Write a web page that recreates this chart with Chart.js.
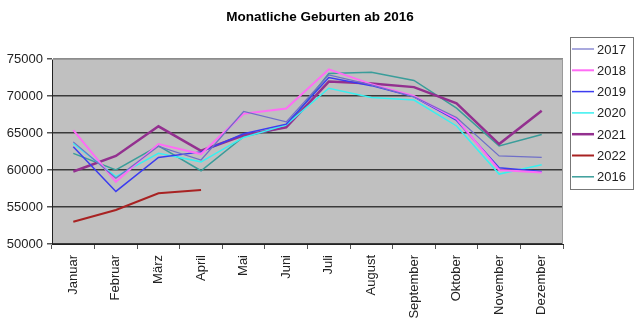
<!DOCTYPE html>
<html lang="de">
<head>
    <meta charset="UTF-8">
    <title>Monatliche Geburten ab 2016</title>
    <style>
        body { margin: 0; background: #ffffff; }
        #wrap { width: 640px; height: 326px; }
    </style>
    <script src="https://cdn.jsdelivr.net/npm/chart.js"></script>
</head>
<body>
    <div id="wrap"><canvas id="chart" width="640" height="326"></canvas></div>

    <script>
        // Monate und Geburten je Jahr
        const months = ['Januar', 'Februar', 'März', 'April', 'Mai', 'Juni', 'Juli',
                        'August', 'September', 'Oktober', 'November', 'Dezember'];
        const y2017 = [63800, 58900, 63200, 61350, 67900, 66500, 72850, 71500, 69900, 67100, 61900, 61700];
        const y2018 = [65400, 58400, 63500, 62150, 67600, 68300, 73600, 71600, 70000, 66900, 60000, 59650];
        const y2019 = [63150, 57100, 61700, 62450, 64900, 66200, 72500, 71400, 69900, 66700, 60300, 59800];
        const y2020 = [63600, 59100, 62250, 61100, 64400, 66100, 71050, 69800, 69450, 65950, 59450, 60700];
        const y2021 = [59800, 61900, 65900, 62600, 64700, 65750, 71950, 71700, 71200, 69000, 63500, 68000];
        const y2022 = [53000, 54600, 56850, 57300];
        const y2016 = [62250, 60000, 63250, 59900, 64500, 65800, 73050, 73200, 72100, 68350, 63250, 64800];
        const yTicks = [50000, 55000, 60000, 65000, 70000, 75000];

        const FONT = 'Liberation Sans, Arial, sans-serif';

        function series(label, data, color, width) {
            return { label, data, borderColor: color, backgroundColor: color,
                     borderWidth: width, pointRadius: 0, tension: 0, fill: false };
        }

        // grauer Plotbereich, Titel und Legende im Kasten
        const decor = {
            id: 'decor',
            beforeDraw(chart) {
                const { ctx, chartArea: a } = chart;
                ctx.save();
                ctx.fillStyle = '#c0c0c0';
                ctx.fillRect(a.left, a.top, a.right - a.left, a.bottom - a.top);
                ctx.restore();
            },
            afterDraw(chart) {
                const { ctx, chartArea: a } = chart;
                ctx.save();
                ctx.strokeStyle = '#9a9a9a';
                ctx.lineWidth = 1;
                ctx.beginPath();
                ctx.moveTo(a.left, a.top + 0.5);
                ctx.lineTo(a.right - 0.5, a.top + 0.5);
                ctx.lineTo(a.right - 0.5, a.bottom);
                ctx.stroke();

                ctx.fillStyle = '#000';
                ctx.font = 'bold 13.5px ' + FONT;
                ctx.textAlign = 'center';
                ctx.textBaseline = 'middle';
                ctx.fillText('Monatliche Geburten ab 2016', 320, 17);

                // Legende
                const bx = 570, by = 37, bw = 63, bh = 152;
                ctx.fillStyle = '#fff';
                ctx.fillRect(bx, by, bw, bh);
                ctx.strokeStyle = '#777';
                ctx.strokeRect(bx + 0.5, by + 0.5, bw, bh);
                ctx.font = '13px ' + FONT;
                ctx.textAlign = 'left';
                chart.data.datasets.forEach((ds, i) => {
                    const y = 49 + i * 21.3;
                    ctx.strokeStyle = ds.borderColor;
                    ctx.lineWidth = ds.borderWidth;
                    ctx.beginPath();
                    ctx.moveTo(572, y);
                    ctx.lineTo(594, y);
                    ctx.stroke();
                    ctx.fillStyle = '#222';
                    ctx.fillText(ds.label, 597, y + 1);
                });
                ctx.restore();
            }
        };

        new Chart(document.getElementById('chart'), {
            type: 'line',
            data: {
                labels: months,
                datasets: [
                    series('2017', y2017, '#6f6fc8', 1.2),
                    series('2018', y2018, '#ff6cf5', 2),
                    series('2019', y2019, '#3c3cf0', 1.5),
                    series('2020', y2020, '#38f0f0', 1.5),
                    series('2021', y2021, '#93308f', 2.5),
                    series('2022', y2022, '#a82222', 2),
                    series('2016', y2016, '#3a9d9a', 1.5)
                ]
            },
            options: {
                responsive: false,
                animation: false,
                layout: { padding: { top: 59, right: 77, left: 0, bottom: 0 } },
                plugins: { legend: { display: false }, title: { display: false }, tooltip: { enabled: false } },
                scales: {
                    x: {
                        offset: true,
                        afterFit(scale) { scale.height = 82; },
                        grid: { offset: true, drawOnChartArea: false, tickLength: 5, tickColor: '#555' },
                        border: { color: '#222', width: 1 },
                        ticks: { minRotation: 90, maxRotation: 90, padding: 6, autoSkip: false,
                                 color: '#222', font: { family: FONT, size: 13 } }
                    },
                    y: {
                        min: 50000, max: 75000,
                        afterFit(scale) { scale.width = 52; },
                        afterBuildTicks(scale) { scale.ticks = yTicks.map(v => ({ value: v })); },
                        grid: {
                            color: ctx => ctx.tick && ctx.tick.value === 75000 ? '#8c8c8c' : '#3a3a3a',
                            lineWidth: 1.5, tickLength: 5, tickColor: '#555'
                        },
                        border: { color: '#222', width: 1 },
                        ticks: { padding: 4, color: '#222', font: { family: FONT, size: 13 },
                                 callback: v => String(v) }
                    }
                }
            },
            plugins: [decor]
        });
    </script>
</body>
</html>
